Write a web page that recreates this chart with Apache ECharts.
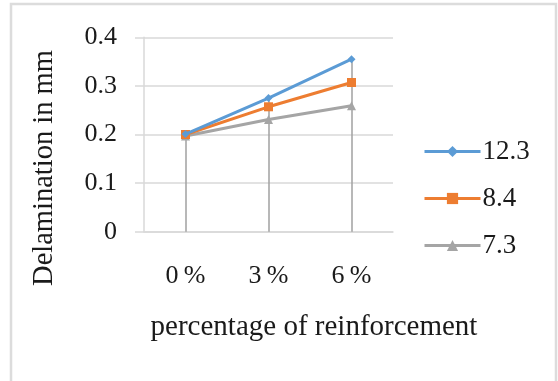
<!DOCTYPE html>
<html>
<head>
<meta charset="utf-8">
<script src="https://cdn.jsdelivr.net/npm/echarts@6/dist/echarts.min.js"></script>
<style>
  html, body { margin: 0; padding: 0; background: #ffffff; }
  #chart { width: 558px; height: 381px; }
</style>
</head>
<body>
<div id="chart"></div>
<script>
const categories = ['0%', '3%', '6%'];
const seriesNames = ['12.3', '8.4', '7.3'];
const s123 = [0.201, 0.275, 0.355];
const s84 = [0.200, 0.257, 0.307];
const s73 = [0.197, 0.231, 0.259];
const yTicks = [0, 0.1, 0.2, 0.3, 0.4];
const xTitle = 'percentage of reinforcement';
const yTitle = 'Delamination in mm';

const allSeries = [s123, s84, s73];
const dropTops = categories.map((c, i) => Math.max(...allSeries.map(s => s[i])));

const FONT = '"Liberation Serif", "Times New Roman", serif';
const chart = echarts.init(document.getElementById('chart'), null, { renderer: 'canvas' });

const option = {
  backgroundColor: '#ffffff',
  animation: false,
  grid: { left: 144, right: 165, top: 37.3, bottom: 149.3, containLabel: false },
  xAxis: {
    type: 'category',
    data: categories,
    boundaryGap: true,
    axisLine: { show: true, lineStyle: { color: '#d9d9d9', width: 1.5 } },
    axisTick: { show: false },
    splitLine: { show: false },
    axisLabel: {
      margin: 31,
      fontFamily: FONT,
      fontSize: 26,
      color: '#1a1a1a',
      formatter: v => v.replace('%', '\u2009%')
    }
  },
  yAxis: {
    type: 'value',
    min: yTicks[0],
    max: yTicks[yTicks.length - 1],
    interval: 0.1,
    axisLine: { show: true, lineStyle: { color: '#d9d9d9', width: 1.5 } },
    axisTick: { show: true, inside: false, length: 9, lineStyle: { color: '#d9d9d9', width: 1.5 } },
    splitLine: { show: true, lineStyle: { color: '#d9d9d9', width: 1.5 } },
    axisLabel: {
      margin: 27,
      fontFamily: FONT,
      fontSize: 26,
      color: '#1a1a1a',
      formatter: v => String(Math.round(v * 10) / 10)
    }
  },
  legend: {
    orient: 'vertical',
    left: 418,
    top: 133,
    itemWidth: 56,
    itemHeight: 14,
    itemGap: 20,
    data: seriesNames,
    lineStyle: { width: 3 },
    textStyle: { fontFamily: FONT, fontSize: 27, color: '#1a1a1a', padding: [0, 0, 0, -3] }
  },
  series: [
    {
      name: seriesNames[0],
      type: 'line',
      data: s123,
      color: '#5B9BD5',
      symbol: 'diamond',
      symbolSize: 8,
      lineStyle: { width: 3, color: '#5B9BD5' },
      itemStyle: { color: '#5B9BD5' },
      z: 5,
      markLine: {
        silent: true,
        symbol: ['none', 'none'],
        label: { show: false },
        lineStyle: { color: '#a0a0a0', width: 1.5, type: 'solid' },
        z: 1,
        data: categories.map((c, i) => [
          { coord: [c, 0] },
          { coord: [c, dropTops[i]] }
        ])
      }
    },
    {
      name: seriesNames[1],
      type: 'line',
      data: s84,
      color: '#ED7D31',
      symbol: 'rect',
      symbolSize: 9,
      lineStyle: { width: 3, color: '#ED7D31' },
      itemStyle: { color: '#ED7D31' },
      z: 4
    },
    {
      name: seriesNames[2],
      type: 'line',
      data: s73,
      color: '#A5A5A5',
      symbol: 'triangle',
      symbolSize: 9,
      lineStyle: { width: 3, color: '#A5A5A5' },
      itemStyle: { color: '#A5A5A5' },
      z: 3
    }
  ],
  graphic: [
    {
      type: 'rect',
      shape: { x: 11, y: 4, width: 545, height: 420 },
      style: { fill: 'none', stroke: '#dcdcdc', lineWidth: 2.5 },
      silent: true
    },
    {
      type: 'text',
      x: 314,
      y: 327,
      style: {
        text: xTitle,
        font: '29px ' + FONT,
        fill: '#1a1a1a',
        textAlign: 'center',
        textVerticalAlign: 'middle'
      }
    },
    {
      type: 'text',
      x: 45,
      y: 168,
      rotation: Math.PI / 2,
      style: {
        text: yTitle,
        font: '28.5px ' + FONT,
        fill: '#1a1a1a',
        textAlign: 'center',
        textVerticalAlign: 'middle'
      }
    }
  ]
};
chart.setOption(option);
</script>
</body>
</html>
